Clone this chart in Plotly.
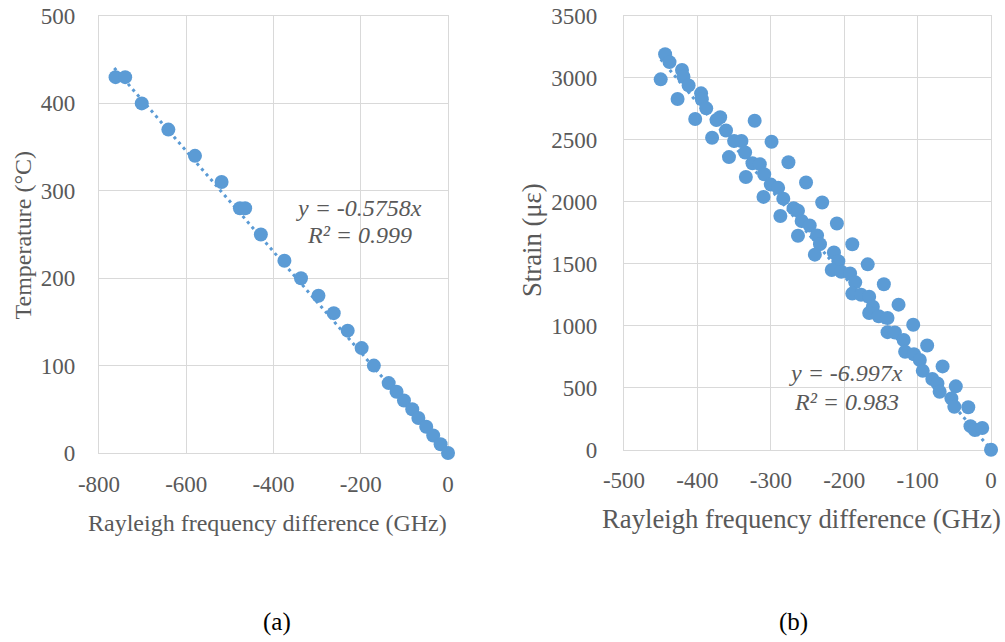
import plotly.graph_objects as go

# ---------------- data ----------------
# (a) temperature vs Rayleigh frequency difference
temp_freq = [-762, -740, -702, -641, -580, -519, -477, -465, -429, -375, -337, -297,
             -262, -230, -198, -170, -136, -118, -101, -82, -68, -50, -34, -17, 0]
temp_vals = [430, 430, 400, 370, 340, 310, 280, 280, 250, 220, 200, 180,
             160, 140, 120, 100, 80, 70, 60, 50, 40, 30, 20, 10, 0]
temp_slope = -0.5758
temp_fit_x = [-765, 0]

# (b) strain vs Rayleigh frequency difference
strain_freq = [-444, -438, -450, -421, -419, -412, -427, -395, -394, -388,
               -403, -369, -374, -361, -380, -322, -350, -340, -299, -335,
               -357, -325, -315, -276, -309, -334, -300, -290, -252, -310,
               -283, -230, -269, -263, -287, -258, -247, -210, -263, -237,
               -233, -189, -240, -214, -208, -217, -204, -192, -168, -185,
               -189, -177, -146, -166, -161, -126, -166, -153, -141, -106,
               -141, -131, -119, -87, -117, -105, -97, -66, -93, -80,
               -73, -48, -70, -54, -50, -31, -28, -22, -12, 0]
strain_vals = [3189, 3126, 2987, 3062, 3008, 2938, 2828, 2874, 2827, 2753,
               2667, 2681, 2659, 2575, 2516, 2653, 2490, 2490, 2484, 2397,
               2360, 2310, 2303, 2318, 2222, 2200, 2138, 2112, 2155, 2039,
               2025, 1994, 1947, 1927, 1885, 1845, 1808, 1825, 1726, 1728,
               1658, 1657, 1573, 1590, 1520, 1449, 1435, 1422, 1495, 1350,
               1259, 1250, 1334, 1234, 1153, 1170, 1103, 1076, 1062, 1008,
               948, 945, 885, 840, 790, 770, 723, 672, 636, 570,
               535, 511, 468, 414, 347, 343, 190, 159, 175, 0]
strain_slope = -6.997
strain_fit_x = [-450, 0]

x1_ticks = [-800, -600, -400, -200, 0]
x1_labels = ["-800", "-600", "-400", "-200", "0"]
y1_ticks = [0, 100, 200, 300, 400, 500]
x2_ticks = [-500, -400, -300, -200, -100, 0]
x2_labels = ["-500", "-400", "-300", "-200", "-100", "0"]
y2_ticks = [0, 500, 1000, 1500, 2000, 2500, 3000, 3500]

# ---------------- style ----------------
BLUE = "#5B9BD5"
GRAY = "#595959"
GRID = "#D9D9D9"
FONT = "Times New Roman, Liberation Serif, serif"

fig = go.Figure()

fig.add_trace(go.Scatter(
    x=temp_fit_x, y=[temp_slope * v for v in temp_fit_x], mode="lines",
    line=dict(color=BLUE, width=3, dash="3px,4px"), xaxis="x", yaxis="y",
    showlegend=False, hoverinfo="skip", cliponaxis=False))
fig.add_trace(go.Scatter(
    x=temp_freq, y=temp_vals, mode="markers",
    marker=dict(color=BLUE, size=14, line=dict(width=0)),
    xaxis="x", yaxis="y", showlegend=False, cliponaxis=False))

fig.add_trace(go.Scatter(
    x=strain_fit_x, y=[strain_slope * v for v in strain_fit_x], mode="lines",
    line=dict(color=BLUE, width=3, dash="3px,4px"), xaxis="x2", yaxis="y2",
    showlegend=False, hoverinfo="skip", cliponaxis=False))
fig.add_trace(go.Scatter(
    x=strain_freq, y=strain_vals, mode="markers",
    marker=dict(color=BLUE, size=14, line=dict(width=0)),
    xaxis="x2", yaxis="y2", showlegend=False, cliponaxis=False))

axis_common = dict(showgrid=True, gridcolor=GRID, gridwidth=1.3,
                   zeroline=False, showline=True, linecolor=GRID, linewidth=1.3,
                   mirror=True, ticks="", automargin=False, layer="below traces",
                   tickfont=dict(family=FONT, size=23, color=GRAY))

fig.update_layout(
    width=1005, height=642,
    margin=dict(l=0, r=0, t=0, b=0),
    paper_bgcolor="white", plot_bgcolor="white",
    font=dict(family=FONT, color=GRAY),
    xaxis=dict(domain=[0.0985, 0.4458], range=[-800, 0], tickvals=x1_ticks,
               ticktext=x1_labels, anchor="y", ticklabelstandoff=10, **axis_common),
    yaxis=dict(domain=[0.2944, 0.9751], range=[0, 500], tickvals=y1_ticks,
               anchor="x", ticklabelstandoff=18, **axis_common),
    xaxis2=dict(domain=[0.6209, 0.9861], range=[-500, 0], tickvals=x2_ticks,
                ticktext=x2_labels, anchor="y2", ticklabelstandoff=10, **axis_common),
    yaxis2=dict(domain=[0.2995, 0.9755], range=[0, 3500], tickvals=y2_ticks,
                anchor="x2", ticklabelstandoff=21, **axis_common),
)

ann = []
def A(text, x, y, size, color=GRAY, angle=0, italic=False):
    ann.append(dict(text=text, x=x / 1005, y=1 - y / 642, xref="paper", yref="paper",
                    showarrow=False, xanchor="center", yanchor="middle", textangle=angle,
                    font=dict(family=FONT, size=size, color=color,
                              style="italic" if italic else "normal")))

A("Rayleigh frequency difference (GHz)", 267.5, 522.7, 24)
A("Rayleigh frequency difference (GHz)", 801.7, 519, 26.7)
A("Temperature (°C)", 22.5, 235, 24, angle=-90)
A("Strain (με)", 532, 240, 26.7, angle=-90)
A("y = -0.5758x", 359, 208, 24, italic=True)
A("R² = 0.999", 359, 235, 24, italic=True)
A("y = -6.997x", 846, 373, 24, italic=True)
A("R² = 0.983", 846, 401.7, 24, italic=True)
A("(a)", 277, 622, 25, color="black")
A("(b)", 793, 622, 25, color="black")

fig.update_layout(annotations=ann)
fig.write_html("out.html")
